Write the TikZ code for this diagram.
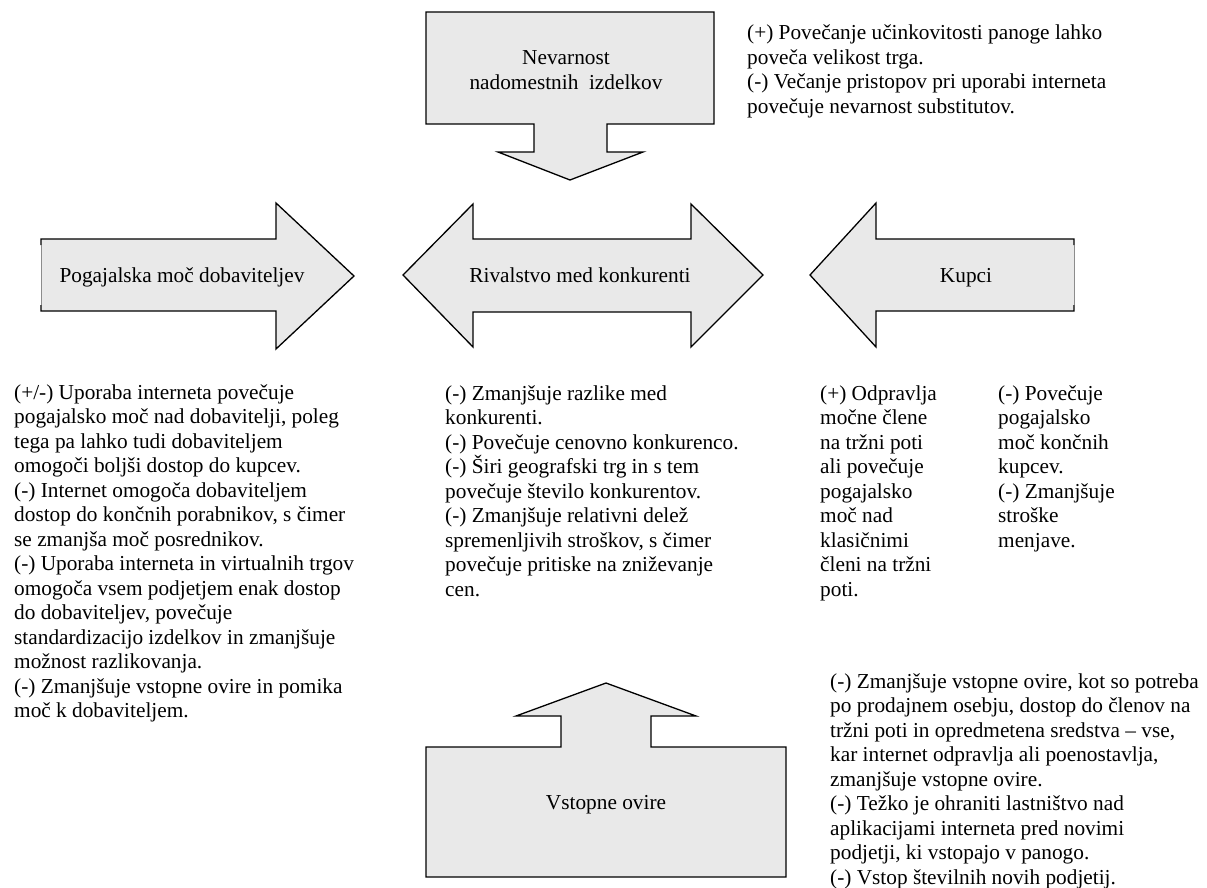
\documentclass[tikz,border=0pt]{standalone}
\usepackage{fontspec}
\setmainfont{Liberation Serif}
\definecolor{arrowgray}{RGB}{233,233,233}
\begin{document}
\begin{tikzpicture}[x=1pt,y=-1pt,
  outline/.style={draw=black, line width=1.3pt, line join=miter},
  arrowshape/.style={outline, fill=arrowgray},
  softedge/.style={draw=black!45, line width=0.6pt},
  lbl/.style={anchor=base, font=\fontsize{21.3}{24.5}\selectfont, inner sep=0pt},
  note/.style={anchor=base west, inner sep=0pt, font=\fontsize{21.3}{24.5}\selectfont}]
\useasboundingbox (0,0) rectangle (1207,888);

% top arrow: threat of substitutes
\draw[arrowshape] (426,12) -- (714,12) -- (714,124) -- (607,124) -- (607,152) -- (643,152)
  -- (570,180) -- (498,152) -- (534,152) -- (534,124) -- (426,124) -- cycle;
\node[lbl] (subst) at (566,65) {\parbox[t]{300pt}{\centering Nevarnost\\nadomestnih\enspace izdelkov}};

% left arrow: suppliers
\fill[arrowgray] (41,239) -- (276,239) -- (276,203) -- (354,276) -- (276,349) -- (276,311) -- (41,311) -- cycle;
\draw[outline] (41,245) -- (41,239) -- (276,239) -- (276,203) -- (354,276) -- (276,349) -- (276,311) -- (41,311) -- (41,305);
\draw[softedge] (41,245) -- (41,305);
\node[lbl] (suppliers) at (182,282) {Pogajalska moč dobaviteljev};

% middle arrow: rivalry
\draw[arrowshape] (403,275) -- (473,204) -- (473,239) -- (691,239) -- (691,204) -- (763,275)
  -- (691,347) -- (691,312) -- (473,312) -- (473,347) -- cycle;
\node[lbl] (rivalry) at (580,282) {Rivalstvo med konkurenti};

% right arrow: buyers
\fill[arrowgray] (810,275) -- (876,203) -- (876,239) -- (1074,239) -- (1074,311) -- (876,311) -- (876,347) -- cycle;
\draw[outline] (1074,305) -- (1074,311) -- (876,311) -- (876,347) -- (810,275) -- (876,203) -- (876,239) -- (1074,239) -- (1074,245);
\draw[softedge] (1074,245) -- (1074,305);
\node[lbl] (buyers) at (966,282) {Kupci};

% bottom arrow: entry barriers
\draw[arrowshape] (606,683) -- (696,716) -- (651,716) -- (651,747) -- (786,747) -- (786,877)
  -- (426,877) -- (426,747) -- (561,747) -- (561,716) -- (516,716) -- cycle;
\node[lbl] (entry) at (606,809) {Vstopne ovire};

% notes
\node[note] (notetop) at (747,40) {\parbox[t]{450pt}{\raggedright
(+) Povečanje učinkovitosti panoge lahko\\
poveča velikost trga.\\
(-) Večanje pristopov pri uporabi interneta\\
povečuje nevarnost substitutov.}};

\node[note] (noteleft) at (14,399) {\parbox[t]{400pt}{\raggedright
(+/-) Uporaba interneta povečuje\\
pogajalsko moč nad dobavitelji, poleg\\
tega pa lahko tudi dobaviteljem\\
omogoči boljši dostop do kupcev.\\
(-) Internet omogoča dobaviteljem\\
dostop do končnih porabnikov, s čimer\\
se zmanjša moč posrednikov.\\
(-) Uporaba interneta in virtualnih trgov\\
omogoča vsem podjetjem enak dostop\\
do dobaviteljev, povečuje\\
standardizacijo izdelkov in zmanjšuje\\
možnost razlikovanja.\\
(-) Zmanjšuje vstopne ovire in pomika\\
moč k dobaviteljem.}};

\node[note] (notemid) at (445,400) {\parbox[t]{400pt}{\raggedright
(-) Zmanjšuje razlike med\\
konkurenti.\\
(-) Povečuje cenovno konkurenco.\\
(-) Širi geografski trg in s tem\\
povečuje število konkurentov.\\
(-) Zmanjšuje relativni delež\\
spremenljivih stroškov, s čimer\\
povečuje pritiske na zniževanje\\
cen.}};

\node[note] (notebuy1) at (820,400) {\parbox[t]{200pt}{\raggedright
(+) Odpravlja\\
močne člene\\
na tržni poti\\
ali povečuje\\
pogajalsko\\
moč nad\\
klasičnimi\\
členi na tržni\\
poti.}};

\node[note] (notebuy2) at (998,400) {\parbox[t]{200pt}{\raggedright
(-) Povečuje\\
pogajalsko\\
moč končnih\\
kupcev.\\
(-) Zmanjšuje\\
stroške\\
menjave.}};

\node[note] (noteentry) at (830,688) {\parbox[t]{450pt}{\raggedright
(-) Zmanjšuje vstopne ovire, kot so potreba\\
po prodajnem osebju, dostop do členov na\\
tržni poti in opredmetena sredstva – vse,\\
kar internet odpravlja ali poenostavlja,\\
zmanjšuje vstopne ovire.\\
(-) Težko je ohraniti lastništvo nad\\
aplikacijami interneta pred novimi\\
podjetji, ki vstopajo v panogo.\\
(-) Vstop številnih novih podjetij.}};
\end{tikzpicture}
\end{document}
